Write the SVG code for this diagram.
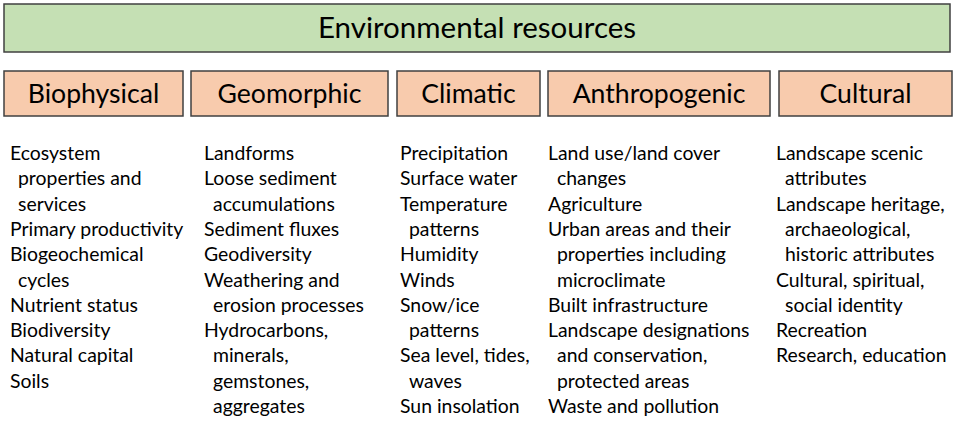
<svg xmlns="http://www.w3.org/2000/svg" width="957" height="421" viewBox="0 0 957 421">
<style>
.top{fill:#C5E0B4;stroke:#404040;stroke-width:1.5}
.cat{fill:#F8CBAD;stroke:#404040;stroke-width:1.5}
.t{font-family:Lato,"Open Sans",sans-serif;font-size:29.5px;fill:#000;text-anchor:middle}
.h{font-family:Lato,"Open Sans",sans-serif;font-size:26.6px;fill:#000;text-anchor:middle}
.b{font-family:Lato,"Open Sans",sans-serif;font-size:19.4px;fill:#000}
</style>
<rect width="957" height="421" fill="#fff"/>
<g id="environmental-resources">
<rect class="top" x="4" y="4" width="946" height="48"/>
<text class="t" x="477" y="38">Environmental resources</text>
</g>
<g id="biophysical">
<rect class="cat" x="4" y="71" width="179" height="45"/>
<text class="h" x="93.5" y="102.5">Biophysical</text>
<text class="b" x="10" y="160">Ecosystem</text>
<text class="b" x="18" y="185.3">properties and</text>
<text class="b" x="18" y="210.6">services</text>
<text class="b" x="10" y="235.9">Primary productivity</text>
<text class="b" x="10" y="261.2">Biogeochemical</text>
<text class="b" x="18" y="286.5">cycles</text>
<text class="b" x="10" y="311.8">Nutrient status</text>
<text class="b" x="10" y="337.1">Biodiversity</text>
<text class="b" x="10" y="362.4">Natural capital</text>
<text class="b" x="10" y="387.7">Soils</text>
</g>
<g id="geomorphic">
<rect class="cat" x="191" y="71" width="197" height="45"/>
<text class="h" x="289.5" y="102.5">Geomorphic</text>
<text class="b" x="204" y="160">Landforms</text>
<text class="b" x="204" y="185.3">Loose sediment</text>
<text class="b" x="213" y="210.6">accumulations</text>
<text class="b" x="204" y="235.9">Sediment fluxes</text>
<text class="b" x="204" y="261.2">Geodiversity</text>
<text class="b" x="204" y="286.5">Weathering and</text>
<text class="b" x="213" y="311.8">erosion processes</text>
<text class="b" x="204" y="337.1">Hydrocarbons,</text>
<text class="b" x="213" y="362.4">minerals,</text>
<text class="b" x="213" y="387.7">gemstones,</text>
<text class="b" x="213" y="413">aggregates</text>
</g>
<g id="climatic">
<rect class="cat" x="397" y="71" width="143" height="45"/>
<text class="h" x="468.5" y="102.5">Climatic</text>
<text class="b" x="400" y="160">Precipitation</text>
<text class="b" x="400" y="185.3">Surface water</text>
<text class="b" x="400" y="210.6">Temperature</text>
<text class="b" x="409" y="235.9">patterns</text>
<text class="b" x="400" y="261.2">Humidity</text>
<text class="b" x="400" y="286.5">Winds</text>
<text class="b" x="400" y="311.8">Snow/ice</text>
<text class="b" x="409" y="337.1">patterns</text>
<text class="b" x="400" y="362.4">Sea level, tides,</text>
<text class="b" x="409" y="387.7">waves</text>
<text class="b" x="400" y="413">Sun insolation</text>
</g>
<g id="anthropogenic">
<rect class="cat" x="548" y="71" width="222" height="45"/>
<text class="h" x="659" y="102.5">Anthropogenic</text>
<text class="b" x="548" y="160">Land use/land cover</text>
<text class="b" x="557" y="185.3">changes</text>
<text class="b" x="548" y="210.6">Agriculture</text>
<text class="b" x="548" y="235.9">Urban areas and their</text>
<text class="b" x="557" y="261.2">properties including</text>
<text class="b" x="557" y="286.5">microclimate</text>
<text class="b" x="548" y="311.8">Built infrastructure</text>
<text class="b" x="548" y="337.1">Landscape designations</text>
<text class="b" x="557" y="362.4">and conservation,</text>
<text class="b" x="557" y="387.7">protected areas</text>
<text class="b" x="548" y="413">Waste and pollution</text>
</g>
<g id="cultural">
<rect class="cat" x="779" y="71" width="173" height="45"/>
<text class="h" x="865.5" y="102.5">Cultural</text>
<text class="b" x="776" y="160">Landscape scenic</text>
<text class="b" x="785" y="185.3">attributes</text>
<text class="b" x="776" y="210.6">Landscape heritage,</text>
<text class="b" x="785" y="235.9">archaeological,</text>
<text class="b" x="785" y="261.2">historic attributes</text>
<text class="b" x="776" y="286.5">Cultural, spiritual,</text>
<text class="b" x="785" y="311.8">social identity</text>
<text class="b" x="776" y="337.1">Recreation</text>
<text class="b" x="776" y="362.4">Research, education</text>
</g>
<g id="connectors"/>
</svg>
